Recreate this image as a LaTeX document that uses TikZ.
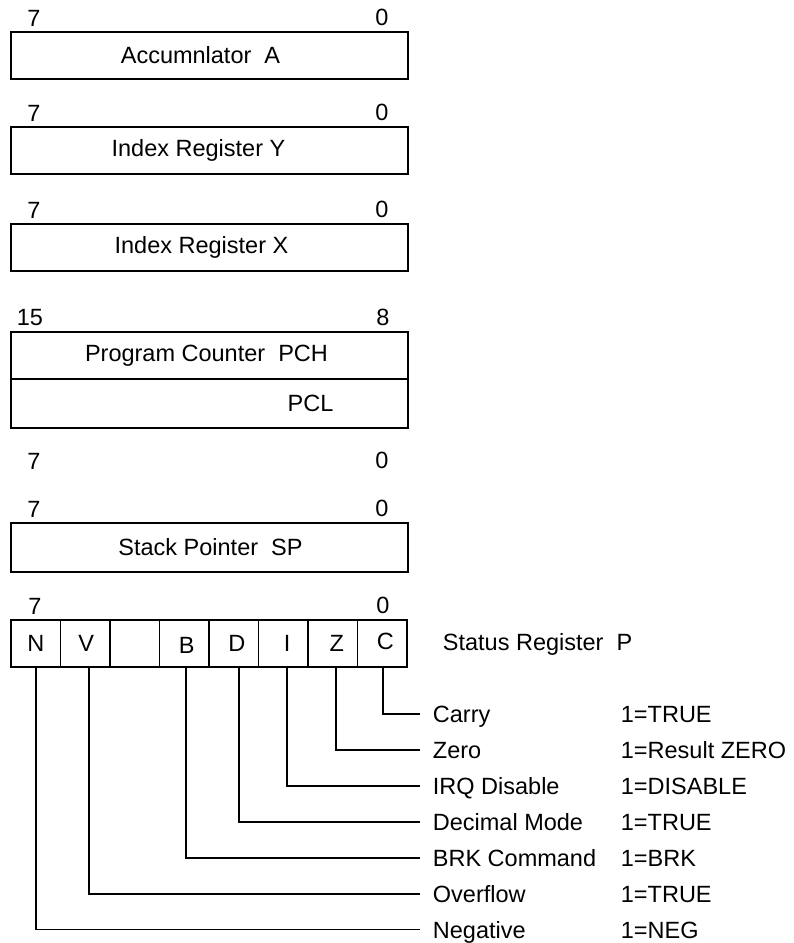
\documentclass[tikz,border=0pt]{standalone}
\usepackage{fontspec}
\setmainfont{Liberation Sans}
\usetikzlibrary{positioning}
\begin{document}
\begin{tikzpicture}[x=1pt, y=-1pt, line width=1.8pt,
  every node/.style={font=\fontsize{23.5}{28}\selectfont},
  reg/.style={draw, minimum width=397pt, minimum height=47pt, inner sep=0pt, outer sep=0pt, anchor=north west},
  bitcell/.style={draw, minimum width=49.5pt, minimum height=47pt, inner sep=0pt, outer sep=0pt},
  bitnum/.style={inner sep=0pt, anchor=south},
  flag/.style={anchor=west, inner sep=0pt, text height=17pt, text depth=0pt}]
  \useasboundingbox (0,0) rectangle (793,943);

  % Accumulator
  \node[reg] (acc) at (11,32) {};
  \node at ([xshift=-9pt]acc.center) {Accumnlator~~A};
  \node[bitnum] at ([xshift=23pt, yshift=5pt]acc.north west) {7};
  \node[bitnum] at ([xshift=-26pt, yshift=5pt]acc.north east) {0};

  % Index registers
  \node[reg] (idxy) at (11,127) {};
  \node at ([xshift=-11pt]idxy.center) {Index Register Y};
  \node[bitnum] at ([xshift=23pt, yshift=5pt]idxy.north west) {7};
  \node[bitnum] at ([xshift=-26pt, yshift=5pt]idxy.north east) {0};

  \node[reg] (idxx) at (11,224) {};
  \node at ([xshift=-8pt]idxx.center) {Index Register X};
  \node[bitnum] at ([xshift=23pt, yshift=5pt]idxx.north west) {7};
  \node[bitnum] at ([xshift=-26pt, yshift=5pt]idxx.north east) {0};

  % Program counter
  \node[reg] (pch) at (11,332) {};
  \node[reg, minimum height=49pt] (pcl) at (11,379) {};
  \node at ([xshift=-3pt]pch.center) {Program Counter~~PCH};
  \node at ([xshift=101pt]pcl.center) {PCL};
  \node[bitnum] at ([xshift=19pt, yshift=5pt]pch.north west) {15};
  \node[bitnum] at ([xshift=-25pt, yshift=5pt]pch.north east) {8};
  \node[bitnum] (lo7) at (34,470) {7};
  \node[bitnum] (lo0) at (382,470) {0};

  % Stack pointer
  \node[reg, minimum height=49pt] (sp) at (11,523) {};
  \node at ([xshift=1pt]sp.center) {Stack Pointer~~SP};
  \node[bitnum] at ([xshift=23pt, yshift=5pt]sp.north west) {7};
  \node[bitnum] at ([xshift=-26pt, yshift=5pt]sp.north east) {0};

  % Status register cells
  \node[bitcell, anchor=north west] (cN) at (11,620) {};
  \node[bitcell, right=0pt of cN] (cV) {};
  \node[bitcell, right=0pt of cV] (cU) {};
  \node[bitcell, right=0pt of cU] (cB) {};
  \node[bitcell, right=0pt of cB] (cD) {};
  \node[bitcell, right=0pt of cD] (cI) {};
  \node[bitcell, right=0pt of cI] (cZ) {};
  \node[bitcell, right=0pt of cZ] (cC) {};
  \node[bitnum] at ([xshift=24pt, yshift=5pt]cN.north west) {7};
  \node[bitnum] at ([xshift=-24pt, yshift=5pt]cC.north east) {0};
  \node at (cN.center) (lN) {N};
  \node at ([xshift=1pt]cV.center) (lV) {V};
  \node at ([xshift=2.5pt, yshift=-2pt]cB.center) (lB) {B};
  \node at ([xshift=3pt]cD.center) (lD) {D};
  \node at ([xshift=4pt]cI.center) (lI) {I};
  \node at ([xshift=4pt]cZ.center) (lZ) {Z};
  \node at ([xshift=3pt, yshift=2pt]cC.center) (lC) {C};
  \node[anchor=west, inner sep=0pt] (stat) at (442,644) {Status Register~~P};

  % Flag descriptions
  \node[flag] (carry) at (432,714) {Carry};
  \node[flag] (zero) at (432,750) {Zero};
  \node[flag] (irq) at (432,786) {IRQ Disable};
  \node[flag] (dec) at (432,822) {Decimal Mode};
  \node[flag] (brk) at (432,858) {BRK Command};
  \node[flag] (ovf) at (432,894) {Overflow};
  \node[flag] (neg) at (432,929.5) {Negative};
  \node[flag] at (620,714) {1=TRUE};
  \node[flag] at (620,750) {1=Result ZERO};
  \node[flag] at (620,786) {1=DISABLE};
  \node[flag] at (620,822) {1=TRUE};
  \node[flag] at (620,858) {1=BRK};
  \node[flag] at (620,894) {1=TRUE};
  \node[flag] at (620,929.5) {1=NEG};

  % Leader lines
  \draw ([xshift=-2pt]lC |- cC.south) |- ([xshift=-12pt]carry.west);
  \draw ([xshift=-1pt]lZ |- cZ.south) |- ([xshift=-12pt]zero.west);
  \draw (lI |- cI.south) |- ([xshift=-12pt]irq.west);
  \draw ([xshift=2pt]lD |- cD.south) |- ([xshift=-12pt]dec.west);
  \draw ([xshift=-0.5pt]lB |- cB.south) |- ([xshift=-12pt]brk.west);
  \draw ([xshift=3pt]lV |- cV.south) |- ([xshift=-12pt]ovf.west);
  \draw ([xshift=0.5pt]lN |- cN.south) |- ([xshift=-12pt]neg.west);
\end{tikzpicture}
\end{document}
